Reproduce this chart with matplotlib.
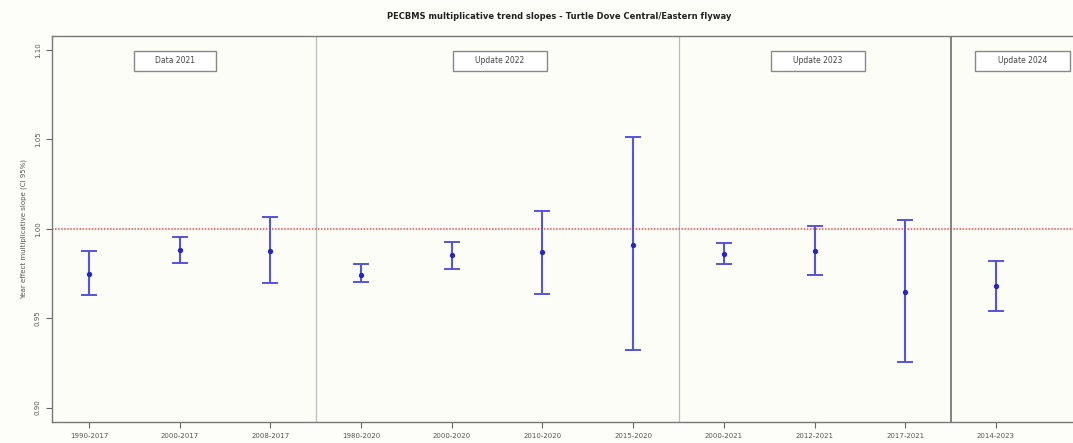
import matplotlib
matplotlib.use("Agg")
import matplotlib.pyplot as plt
from matplotlib.patches import Rectangle

# ---- data ----
periods = ["1990-2017", "2000-2017", "2008-2017", "1980-2020", "2000-2020",
           "2010-2020", "2015-2020", "2000-2021", "2012-2021", "2017-2021", "2014-2023"]
slope = [0.9748, 0.9883, 0.9877, 0.9743, 0.9855, 0.9871, 0.9910, 0.9860, 0.9877, 0.9648, 0.9680]
lower = [0.9631, 0.9810, 0.9698, 0.9700, 0.9776, 0.9636, 0.9320, 0.9800, 0.9740, 0.9256, 0.9540]
upper = [0.9877, 0.9955, 1.0067, 0.9800, 0.9927, 1.0100, 1.0515, 0.9920, 1.0017, 1.0050, 0.9820]
update_names = ["Data 2021", "Update 2022", "Update 2023", "Update 2024"]
update_label_x = [1.95, 5.53, 9.04, 11.29]
separators = [3.5, 7.5, 10.5]
yticks = [0.90, 0.95, 1.00, 1.05, 1.10]
ytick_labels = ["0.90", "0.95", "1.00", "1.05", "1.10"]

fig = plt.figure(figsize=(10.73, 4.43), dpi=100)
fig.patch.set_facecolor("#fdfdf9")
ax = fig.add_axes([0.0485, 0.0474, 0.9515, 0.8713])
ax.set_facecolor("#fdfdf8")

x = list(range(1, len(periods) + 1))
yerr = [[s - l for s, l in zip(slope, lower)], [u - s for s, u in zip(slope, upper)]]
ax.errorbar(x, slope, yerr=yerr, fmt="o", color="#2626c0", ecolor="#5555d8",
            elinewidth=1.5, capsize=6, capthick=1.4, markersize=2.8, zorder=3)

ax.axhline(1.0, color="#e84848", linestyle=(0, (1.0, 1.0)), linewidth=1.1, zorder=2)

for i, s in enumerate(separators):
    if i == len(separators) - 1:
        ax.axvline(s, color="#777777", linewidth=1.3, zorder=1)
    else:
        ax.axvline(s, color="#bbbbbb", linewidth=0.9, zorder=1)

box_w = [0.9, 1.04, 1.03, 1.05]
box_h = 0.0112
for name, cx, w in zip(update_names, update_label_x, box_w):
    ax.add_patch(Rectangle((cx - w / 2, 1.0939 - box_h / 2), w, box_h,
                           facecolor="white", edgecolor="#888888", linewidth=1.0, zorder=4))
    ax.text(cx, 1.0939, name, ha="center", va="center", fontsize=5.5,
            color="#444444", zorder=5)

ax.set_xlim(0.592, 11.85)
ax.set_ylim(0.8919, 1.1078)
ax.set_xticks(x)
ax.set_xticklabels(periods, fontsize=5, color="#555555")
ax.set_yticks(yticks)
ax.set_yticklabels(ytick_labels, fontsize=5, color="#555555", rotation=90, va="center")
ax.tick_params(axis="both", direction="out", length=4, width=0.8, color="#666666", pad=4)

for sp in ["left", "bottom", "top"]:
    ax.spines[sp].set_color("#777777")
    ax.spines[sp].set_linewidth(1.0)
ax.spines["right"].set_visible(False)

ax.set_ylabel("Year effect multiplicative slope (CI 95%)", fontsize=5, color="#555555", labelpad=6)
fig.text(0.521, 0.962, "PECBMS multiplicative trend slopes - Turtle Dove Central/Eastern flyway",
         ha="center", va="center", fontsize=6, fontweight="bold", color="#222222")

fig.savefig("out.png", dpi=100, facecolor=fig.get_facecolor())
